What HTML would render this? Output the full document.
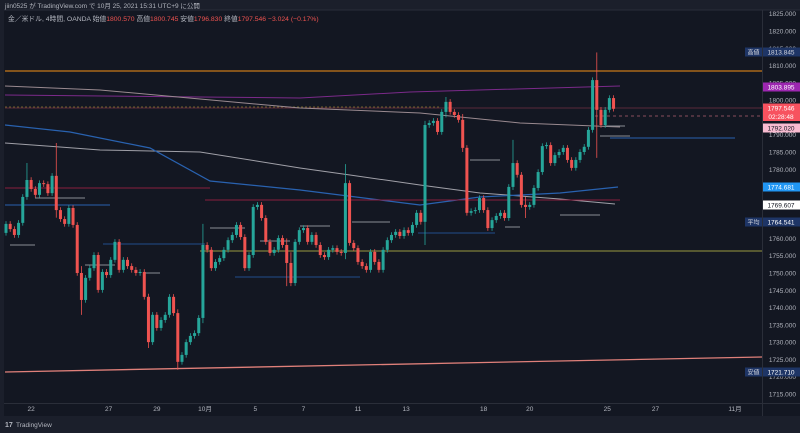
<!DOCTYPE html>
<html><head><meta charset="utf-8">
<style>
html,body{margin:0;padding:0;background:#1b1f2b;}
#wrap{position:relative;width:800px;height:433px;overflow:hidden;background:#1b1f2b;font-family:"Liberation Sans","Noto Sans CJK JP",sans-serif;}
svg{position:absolute;left:0;top:0;}
</style></head>
<body>
<div id="wrap">
<svg id="chart" width="800" height="433" viewBox="0 0 800 433"></svg>
</div>
<script>
// ---- data ----
const firstOpen = 1761.6;
const closes = [1764.2,1762.7,1761.0,1764.5,1772.0,1776.9,1774.3,1772.6,1776.0,1775.7,
1773.1,1778.1,1768.2,1765.6,1764.2,1768.8,1763.9,1750.0,1742.2,1748.6,
1751.4,1755.2,1745.1,1750.3,1749.4,1753.8,1759.0,1750.9,1753.8,1752.0,
1750.9,1750.0,1750.3,1743.1,1730.0,1737.9,1734.1,1736.4,1737.9,1743.1,
1738.4,1724.3,1726.3,1730.0,1731.8,1732.6,1737.0,1758.1,1756.7,1751.4,
1753.2,1754.3,1756.7,1759.5,1761.0,1763.9,1760.4,1751.4,1755.2,1769.1,
1769.7,1765.9,1759.0,1755.8,1756.7,1760.1,1758.1,1752.9,1747.1,1759.0,
1762.4,1763.0,1759.0,1761.0,1758.1,1755.2,1754.6,1756.7,1757.2,1756.1,
1755.8,1776.0,1758.7,1757.2,1753.2,1752.0,1750.9,1756.1,1753.2,1750.9,
1756.7,1759.5,1761.0,1761.9,1760.7,1762.4,1761.6,1763.9,1767.4,1764.8,
1792.8,1793.4,1794.0,1790.8,1796.6,1799.5,1796.6,1795.7,1794.3,1786.2,
1767.4,1767.9,1768.2,1771.7,1768.2,1763.0,1765.3,1766.5,1767.4,1765.9,
1774.9,1781.8,1778.4,1769.7,1769.1,1769.7,1774.6,1779.2,1786.7,1787.0,
1781.8,1784.1,1785.0,1786.2,1782.7,1780.4,1782.7,1785.0,1786.5,1791.4,
1805.8,1797.2,1792.8,1797.2,1800.6,1797.5];
const wickIdx  = [5,12,18,34,41,47,67,68,81,100,105,109,121,124,141];
const wickHigh = [1781.8,1787.6,1752.0,1744.0,1739.5,1764.2,1760.0,1756.0,1781.5,1794.0,1800.9,1796.0,1788.5,1772.0,1813.8];
const wickLow  = [1771.5,1766.0,1737.9,1728.3,1722.0,1735.5,1746.2,1746.2,1754.0,1758.1,1795.0,1785.0,1774.0,1765.9,1783.3];
const priceTicks = [1715,1720,1725,1730,1735,1740,1745,1750,1755,1760,1765,1770,1775,1780,1785,1790,1795,1800,1805,1810,1815,1820,1825];
const dateLabels = ["22","27","29","10月","5","7","11","13","18","20","25","27","11月"];
const dateBarIdx = [6,24.5,36,47.5,59.5,71,84,95.5,114,125,143.5,155,174];

// ---- axes ----
const PLOT_R = 762;
function yP(p){ return 31 + (1820 - p) * 3.457; }
function xI(i){ return 6 + i * 4.19; }

const NS = "http://www.w3.org/2000/svg";
const svg = document.getElementById("chart");
function mk(tag, attrs, parent){
  const e = document.createElementNS(NS, tag);
  for (const k in attrs) e.setAttribute(k, attrs[k]);
  (parent || svg).appendChild(e);
  return e;
}

// background panes
let e;
e = mk("rect",{x:4,y:10,width:758,height:393,fill:"#131722"});


e = mk("rect",{x:762,y:10,width:38,height:406,fill:"#131722"});


e = mk("rect",{x:4,y:403,width:758,height:13,fill:"#131722"});


mk("line",{x1:762.5,y1:10,x2:762.5,y2:416,stroke:"#2a2e39","stroke-width":1});
mk("line",{x1:4,y1:403.5,x2:800,y2:403.5,stroke:"#2a2e39","stroke-width":1});
mk("line",{x1:4,y1:10,x2:800,y2:10,stroke:"#2a2e39","stroke-width":1});

// header
e = mk("text",{x:5,y:8,fill:"#b2b5be","font-size":"6.5"});
e.textContent = "jiin0525 が TradingView.com で 10月 25, 2021 15:31 UTC+9 に公開";


const leg = mk("text",{x:8,y:21,"font-size":"6.8",fill:"#b2b5be"});


const parts = [["金／米ドル, 4時間, OANDA  始値","#b2b5be"],["1800.570","#ef5350"],["  高値","#b2b5be"],["1800.745","#ef5350"],["  安値","#b2b5be"],["1796.830","#ef5350"],["  終値","#b2b5be"],["1797.546","#ef5350"],["  −3.024 (−0.17%)","#ef5350"]];
parts.forEach(p=>{ const t=mk("tspan",{fill:p[1]},leg); t.textContent=p[0]; });

// price ticks
priceTicks.forEach(v=>{
  const t = mk("text",{x:796,y:yP(v)+2.5,fill:"#b2b5be","font-size":"6.5","text-anchor":"end"});
  t.textContent = v.toFixed(3);
  
  
});
// date labels
dateLabels.forEach((d,k)=>{
  const t = mk("text",{x:xI(dateBarIdx[k]),y:411,fill:"#b2b5be","font-size":"6.5","text-anchor":"middle"});
  t.textContent = d;
  
  
});

// overlay lines
function poly(pts, color, w, name, dash){
  const a = {points:pts.map(p=>p.join(",")).join(" "),fill:"none",stroke:color,"stroke-width":w};
  if(dash) a["stroke-dasharray"]=dash;
  const l = mk("polyline",a);
  
  
}
poly([[5,71],[762,71]],"#c77a1a",1.2,"high-level-line");
poly([[5,108],[762,108]],"#5a2a3a",1,"price-line");
poly([[5,107],[440,107]],"#8a7a30",0.8,"yellow-dash-line","2,2");
poly([[595,116],[762,116]],"#b06070",0.8,"close-dash-line","3,3");
poly([[5,95],[200,97],[300,98],[410,92],[620,86]],"#7b2a8a",1,"ma-purple");
poly([[5,86],[100,90],[200,99],[300,108],[420,113],[520,123],[620,127]],"#9a8a90",1,"ma-gray");
poly([[5,143],[60,147],[100,150],[200,152],[300,168],[350,175],[420,185],[480,193],[560,199],[615,204]],"#a0a0a8",1,"ma-white");
poly([[5,125],[70,132],[150,148],[210,181],[300,190],[420,205],[480,197],[560,193],[618,187]],"#2962b0",1.2,"ma-blue");
poly([[5,188],[210,188]],"#8a1f3f",1,"level-crimson-1");
poly([[205,200],[620,200]],"#8a1f3f",1,"level-crimson-2");
poly([[5,205],[110,205]],"#2962b0",1,"level-blue-1");
poly([[103,244],[205,244]],"#2962b0",0.8,"level-blue-2");
poly([[235,277],[360,277]],"#2962b0",0.8,"level-blue-3");
poly([[418,233],[495,233]],"#2962b0",0.8,"level-blue-4");
poly([[610,138],[735,138]],"#2962b0",1,"level-blue-5");
poly([[200,251],[762,251]],"#9a9a40",1,"level-yellow");
poly([[5,372],[762,357]],"#e0807a",1.3,"support-line");
[[10,245,35],[60,198,85],[35,198,60],[85,265,115],[145,273,160],[210,228,245],[260,241,290],[300,226,330],[352,222,390],[470,160,500],[505,227,520],[560,215,600],[600,136,630],[605,126,625]].forEach(s=>{
  poly([[s[0],s[1]],[s[2],s[1]]],"#8a8c94",1,"swing-level");
});

// candles
let prev = firstOpen;
closes.forEach((c,i)=>{
  const o = prev; prev = c;
  let hi = Math.max(o,c)+0.8, lo = Math.min(o,c)-0.8;
  const k = wickIdx.indexOf(i);
  if(k>=0){ hi = Math.max(hi,wickHigh[k]); lo = Math.min(lo,wickLow[k]); }
  const up = c >= o;
  const col = up ? "#26a69a" : "#ef5350";
  const x = xI(i);
  const g = mk("g",{});
  
  
  mk("line",{x1:x,y1:yP(hi),x2:x,y2:yP(lo),stroke:col,"stroke-width":0.8},g);
  const top = yP(Math.max(o,c)), bot = yP(Math.min(o,c));
  mk("rect",{x:x-1.5,y:top,width:3,height:Math.max(1,bot-top),fill:col},g);
});

// badges
function badge(y, text, bg, fg, label){
  const g = mk("g",{});
  
  
  mk("rect",{x:763,y:y-4.5,width:37,height:9,fill:bg},g);
  const t = mk("text",{x:781,y:y+2.3,fill:fg,"font-size":"6.5","text-anchor":"middle"},g);
  t.textContent = text;
  if(label){
    mk("rect",{x:745,y:y-4.5,width:17,height:9,fill:"#1e3566"},g);
    const l = mk("text",{x:753.5,y:y+2.3,fill:"#d1d4dc","font-size":"6","text-anchor":"middle"},g);
    l.textContent = label;
  }
}
badge(52,"1813.845","#1e3566","#d1d4dc","高値");
badge(87,"1803.895","#9c27b0","#ffffff");
badge(108,"1797.546","#f7525f","#ffffff");
badge(116.5,"02:28:48","#f7525f","#ffffff");
badge(128,"1792.020","#f8bbd0","#131722");
badge(187,"1774.681","#2196f3","#ffffff");
badge(205,"1769.607","#ffffff","#131722");
badge(222,"1764.541","#1e3566","#ffffff","平均");
badge(372,"1721.710","#1e3566","#ffffff","安値");

// footer
e = mk("text",{x:5,y:427,fill:"#b2b5be","font-size":"7","font-weight":"bold"});
e.textContent = "17";


e = mk("text",{x:16,y:427,fill:"#b2b5be","font-size":"6.5"});
e.textContent = "TradingView";


</script>
</body></html>
